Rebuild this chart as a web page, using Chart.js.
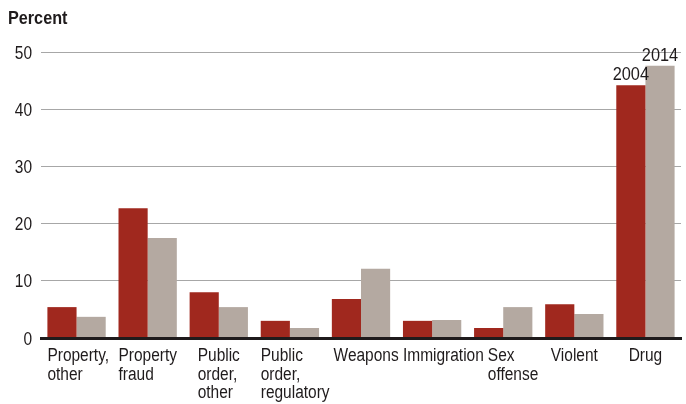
<!DOCTYPE html>
<html>
<head>
<meta charset="utf-8">
<script src="https://cdn.jsdelivr.net/npm/chart.js@4"></script>
<style>
  html, body { margin: 0; padding: 0; background: #fff; }
  #wrap { width: 686px; height: 404px; }
</style>
</head>
<body>
<div id="wrap"><canvas id="chart" width="686" height="404"></canvas></div>
<script>
const categories = [
  ['Property,', 'other'],
  ['Property', 'fraud'],
  ['Public', 'order,', 'other'],
  ['Public', 'order,', 'regulatory'],
  ['Weapons'],
  ['Immigration'],
  ['Sex', 'offense'],
  ['Violent'],
  ['Drug']
];
const values2004 = [5.4, 22.7, 8.0, 3.0, 6.8, 3.0, 1.75, 5.9, 44.2];
const values2014 = [3.7, 17.5, 5.4, 1.75, 12.1, 3.15, 5.4, 4.2, 47.6];
const yTicks = [0, 10, 20, 30, 40, 50];

const FONT = '"Liberation Sans", Arial, sans-serif';
const TEXT = '#1f1b1c';
const SQUEEZE = 0.86; // fake a condensed face

// text drawn squeezed horizontally, anchored at x with given alignment
function narrowText(ctx, str, x, y, align, sq = SQUEEZE) {
  const w = ctx.measureText(str).width * sq;
  let left = x;
  if (align === 'center') left = x - w / 2;
  if (align === 'right') left = x - w;
  ctx.save();
  ctx.translate(left, y);
  ctx.scale(sq, 1);
  ctx.textAlign = 'left';
  ctx.fillText(str, 0, 0);
  ctx.restore();
}

const labelPlugin = {
  id: 'labels',
  afterDraw(chart) {
    const ctx = chart.ctx;
    const x = chart.scales.x;
    const y = chart.scales.y;
    const reds = chart.getDatasetMeta(0).data;
    ctx.save();
    ctx.fillStyle = TEXT;

    ctx.textBaseline = 'alphabetic';
    ctx.font = 'bold 18px ' + FONT;
    narrowText(ctx, 'Percent', 8, 24, 'left', 0.9);

    ctx.font = '18px ' + FONT;
    yTicks.forEach(v => {
      narrowText(ctx, String(v), 32, y.getPixelForValue(v) + 6.5, 'right');
    });

    // block of lines, left aligned, centred under the pair but not left of
    // the first bar and not touching the previous label
    let prevRight = -Infinity;
    categories.forEach((lines, i) => {
      const cx = x.getPixelForValue(i);
      const w = Math.max(...lines.map(l => ctx.measureText(l).width)) * SQUEEZE;
      const barLeft = reds[i].x - reds[i].width / 2;
      const left = Math.max(barLeft, cx - w / 2, prevRight + 4);
      lines.forEach((l, j) => {
        narrowText(ctx, l, left, chart.chartArea.bottom + 23 + j * 18.5, 'left');
      });
      prevRight = left + w;
    });

    ctx.font = '19px ' + FONT;
    const last = categories.length - 1;
    chart.data.datasets.forEach((ds, k) => {
      const bar = chart.getDatasetMeta(k).data[last];
      narrowText(ctx, ds.label, bar.x, bar.y - 5, 'center');
    });
    ctx.restore();
  }
};

new Chart(document.getElementById('chart'), {
  type: 'bar',
  data: {
    labels: categories.map(c => c.join(' ')),
    datasets: [
      { label: '2004', data: values2004, backgroundColor: '#a0281e' },
      { label: '2014', data: values2014, backgroundColor: '#b4a9a1' }
    ]
  },
  options: {
    responsive: false,
    animation: false,
    layout: { padding: { top: 52, right: 5, left: 0, bottom: 0 } },
    datasets: {
      bar: { categoryPercentage: 0.82, barPercentage: 1.0 }
    },
    scales: {
      x: {
        grid: { display: false },
        border: { color: TEXT, width: 3, z: 1 },
        ticks: { display: false },
        afterFit(scale) { scale.height = 66; }
      },
      y: {
        min: 0,
        max: 50,
        afterBuildTicks(scale) { scale.ticks = yTicks.map(v => ({ value: v })); },
        afterFit(scale) { scale.width = 41; },
        border: { display: false },
        grid: { color: '#a7a7a7', lineWidth: 1, drawTicks: false },
        ticks: { display: false }
      }
    },
    plugins: {
      legend: { display: false },
      tooltip: { enabled: false }
    }
  },
  plugins: [labelPlugin]
});
</script>
</body>
</html>
